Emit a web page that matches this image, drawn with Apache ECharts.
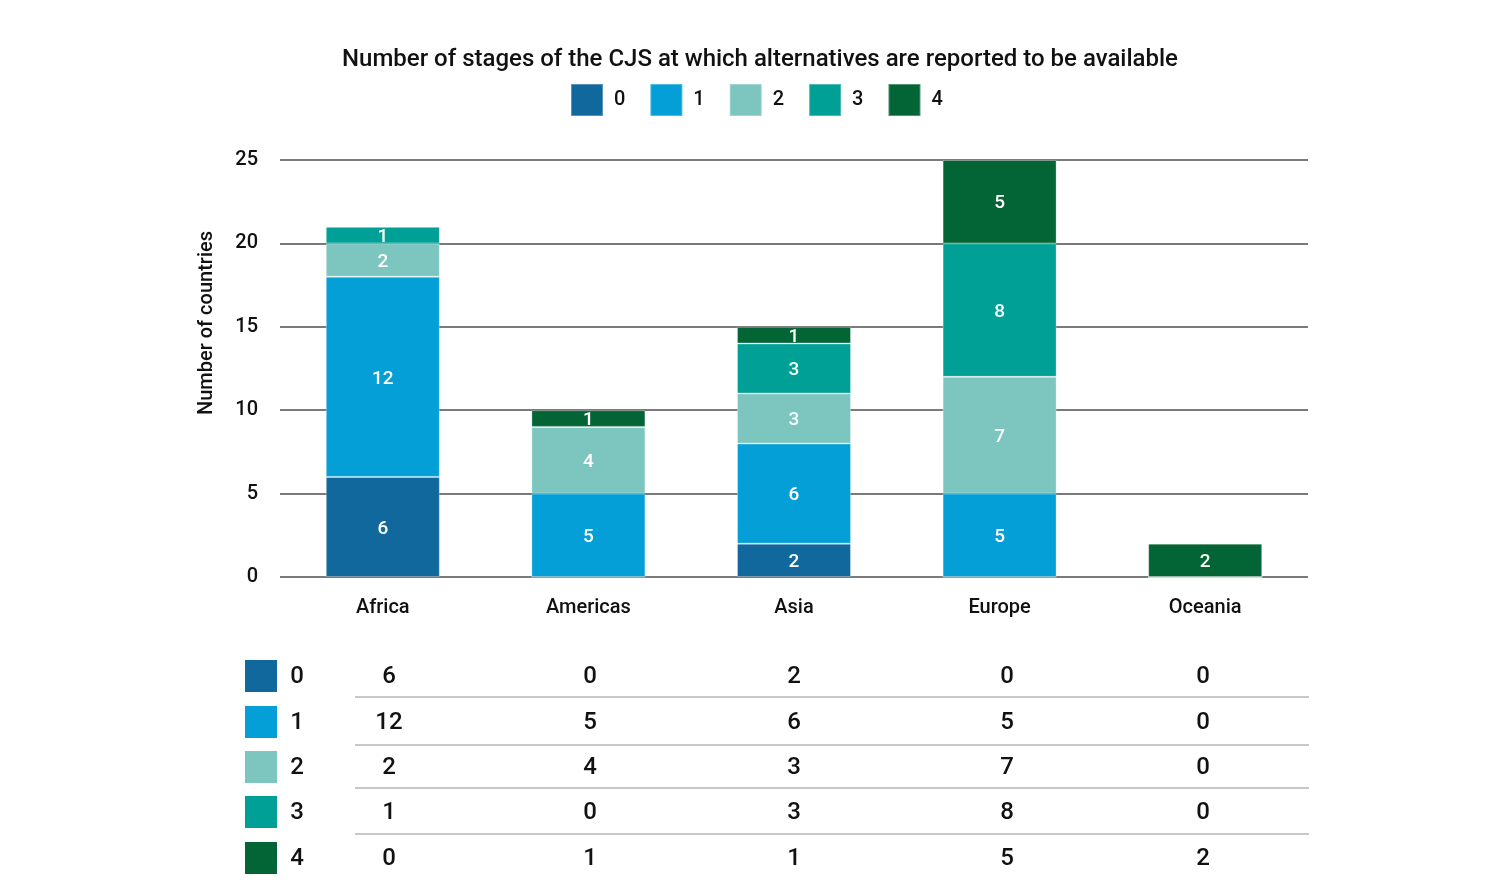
<!DOCTYPE html>
<html><head><meta charset="utf-8">
<script src="https://cdn.jsdelivr.net/npm/echarts@6/dist/echarts.min.js"></script>
<style>html,body{margin:0;padding:0;background:#fff}#c{width:1487px;height:882px}</style>
</head><body><div id="c"></div>
<script>
const regions = ['Africa', 'Americas', 'Asia', 'Europe', 'Oceania'];
const stageNames = ['0', '1', '2', '3', '4'];
const stage0 = [6, 0, 2, 0, 0];
const stage1 = [12, 5, 6, 5, 0];
const stage2 = [2, 4, 3, 7, 0];
const stage3 = [1, 0, 3, 8, 0];
const stage4 = [0, 1, 1, 5, 2];
const yTicks = [0, 5, 10, 15, 20, 25];

const stageValues = [stage0, stage1, stage2, stage3, stage4];
const colors = ['#10689c', '#039fd6', '#7cc6bf', '#00a096', '#036535'];
const FONT = 'Roboto';

const chart = echarts.init(document.getElementById('c'));

// table layout
const colX = [389, 590, 794, 1007, 1203];
const rowY = [677, 723, 768, 813, 859];
const sepY = [697, 745, 788, 834];
const graphics = [];
stageNames.forEach((n, i) => {
  graphics.push({type:'rect', shape:{x:245, y:rowY[i]-17, width:32, height:32}, style:{fill:colors[i]}});
  graphics.push({type:'text', x:297, y:rowY[i], style:{text:n, font:'500 24px '+FONT, fill:'#111', align:'center', verticalAlign:'middle'}});
  stageValues[i].forEach((v, j) => {
    graphics.push({type:'text', x:colX[j], y:rowY[i], style:{text:String(v), font:'500 24px '+FONT, fill:'#111', align:'center', verticalAlign:'middle'}});
  });
});
sepY.forEach(y => graphics.push({type:'line', shape:{x1:355, y1:y, x2:1309, y2:y}, style:{stroke:'#c8c8c8', lineWidth:2}}));
graphics.push({type:'text', x:207, y:323, rotation:Math.PI/2, style:{text:'Number of countries', font:'500 20px '+FONT, fill:'#111', align:'center', verticalAlign:'middle'}});

chart.setOption({
  animation:false,
  textStyle:{fontFamily:FONT},
  title:{text:'Number of stages of the CJS at which alternatives are reported to be available', left:755, textAlign:'center', top:43,
    textStyle:{fontSize:24, fontWeight:500, color:'#111', fontFamily:FONT}},
  legend:{top:83, left:570, padding:0, itemWidth:32, itemHeight:32, itemGap:24, icon:'rect',
    data:stageNames, textStyle:{fontSize:20, fontWeight:500, color:'#111', padding:[3,0,0,6]}},
  grid:{left:280, right:179, top:160, bottom:305, containLabel:false},
  xAxis:{type:'category', data:regions, axisLine:{show:false}, axisTick:{show:false},
    axisLabel:{fontSize:20, fontWeight:500, color:'#111', margin:21}},
  yAxis:{type:'value', min:0, max:25, interval:5,
    axisLabel:{fontSize:20, fontWeight:500, color:'#111', margin:22, padding:[3,0,0,0], formatter:v => yTicks.includes(v) ? String(v) : ''},
    splitLine:{lineStyle:{color:'#7a7a7a', width:2}}, axisLine:{show:false}, axisTick:{show:false}},
  series: stageNames.map((n, i) => ({
    name:n, type:'bar', stack:'total', barWidth:114, data:stageValues[i],
    itemStyle:{color:colors[i], borderColor:'rgba(255,255,255,0.3)', borderWidth:1},
    label:{show:true, position:'inside', color:'#fff', fontSize:19, fontWeight:500, offset:[0,2], formatter:p => p.value ? String(p.value) : ''},
    z:3
  })),
  graphic:graphics
});
</script></body></html>
